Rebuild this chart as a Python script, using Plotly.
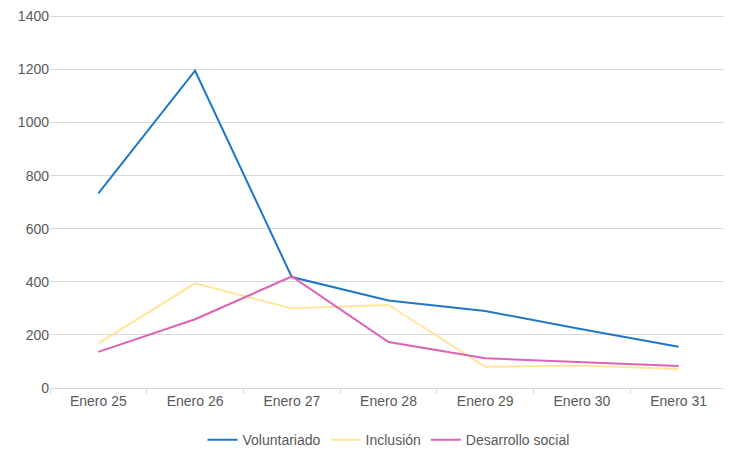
import plotly.graph_objects as go

categories = ["Enero 25", "Enero 26", "Enero 27", "Enero 28", "Enero 29", "Enero 30", "Enero 31"]
voluntariado = [733, 1195, 418, 330, 290, 221, 155]
inclusion = [168, 394, 300, 313, 80, 85, 72]
desarrollo = [136, 259, 420, 173, 112, 97, 83]

series = [
    ("Voluntariado", voluntariado, "#1F77C8"),
    ("Inclusión", inclusion, "#FFE699"),
    ("Desarrollo social", desarrollo, "#DD62B4"),
]

fig = go.Figure()
for name, vals, color in series:
    fig.add_trace(go.Scatter(x=categories, y=vals, name=name, mode="lines",
                             line=dict(color=color, width=2)))

fig.update_layout(
    width=732, height=463,
    margin=dict(l=42, r=13, t=7, b=83),
    paper_bgcolor="white", plot_bgcolor="white",
    font=dict(family="Liberation Sans, Arial, sans-serif", size=14, color="#595959"),
    showlegend=True,
    legend=dict(orientation="h", x=0.5, xanchor="center", y=-0.14, yanchor="middle",
                font=dict(size=14, color="#595959"), itemwidth=30),
    xaxis=dict(type="category", range=[-0.5, 6.5], showgrid=False, showline=True,
               linecolor="#d9d9d9", linewidth=1, ticks="outside", tickson="boundaries",
               ticklen=5, tickcolor="#d9d9d9", tickfont=dict(size=14, color="#595959"),
               automargin=False),
    yaxis=dict(range=[0, 1405], tickmode="linear", tick0=0, dtick=200, showgrid=True,
               gridcolor="#d9d9d9", gridwidth=1, zeroline=False, showline=False, ticks="",
               tickfont=dict(size=14, color="#595959"), automargin=False),
)

fig.write_html("out.html")
